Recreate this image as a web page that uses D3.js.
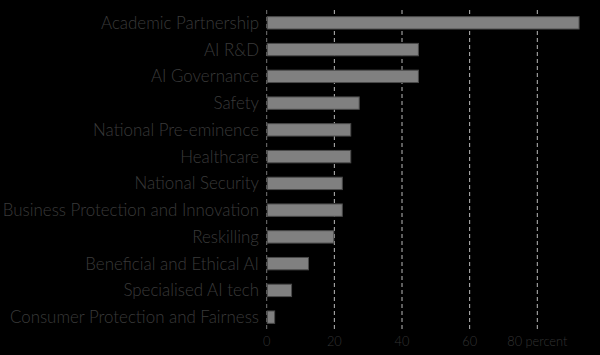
<!DOCTYPE html>
<html><head><meta charset="utf-8">
<script src="https://cdn.jsdelivr.net/npm/d3@7"></script>
<style>html,body{margin:0;padding:0;background:#000;}svg{display:block;}</style>
</head><body>
<svg id="c" width="600" height="355"></svg>
<script>
const categories = ["Academic Partnership","AI R&D","AI Governance","Safety","National Pre-eminence","Healthcare","National Security","Business Protection and Innovation","Reskilling","Beneficial and Ethical AI","Specialised AI tech","Consumer Protection and Fairness"];
const values = [92.5,45,45,27.5,25,25,22.5,22.5,20,12.5,7.5,2.5];
const tickValues = [0,20,40,60,80];
const tickLabels = ["0","20","40","60","80 percent"];

const svg = d3.select("#c");
const x = d3.scaleLinear().domain([0,80]).range([266.7,537.3]);
const y = d3.scaleBand().domain(categories).range([10,330]).paddingInner(0.5).paddingOuter(0.23);
const font = "Lato, 'Open Sans', sans-serif";

// gridlines
svg.append("g").selectAll("line").data(tickValues).join("line")
  .attr("x1",d=>x(d)).attr("x2",d=>x(d)).attr("y1",10).attr("y2",330)
  .attr("stroke",d=>d===0?"#777":"#bbb").attr("stroke-width",1).attr("stroke-dasharray","4,3");

// bars
svg.append("g").selectAll("rect").data(categories).join("rect")
  .attr("x",x(0)+0.5).attr("y",d=>y(d)+0.5)
  .attr("width",(d,i)=>x(values[i])-x(0)-1).attr("height",y.bandwidth()-1)
  .attr("fill","#808080").attr("stroke","#4a4a4a").attr("stroke-width",1);

// category labels
svg.append("g").selectAll("text").data(categories).join("text")
  .attr("x",259).attr("y",d=>y(d)+y.bandwidth()/2).attr("dy","0.35em")
  .attr("text-anchor","end").attr("fill","#3a3a3a")
  .style("font-family",font).style("font-weight","300").style("font-size","16.9px").text(d=>d);

// x tick labels
svg.append("g").selectAll("text").data(tickValues).join("text")
  .attr("x",d=>x(d)).attr("y",342).attr("dy","0.35em")
  .attr("text-anchor","middle").attr("fill","#333")
  .style("font-family",font).style("font-weight","300").style("font-size","12.8px").text((d,i)=>tickLabels[i]);
</script>
</body></html>
